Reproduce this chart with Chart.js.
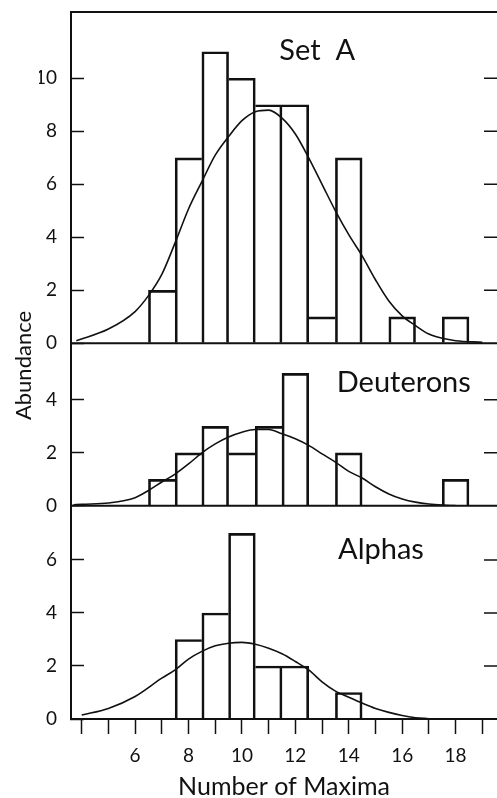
<!DOCTYPE html>
<html>
<head>
<meta charset="utf-8">
<script src="https://cdn.jsdelivr.net/npm/chart.js@4.4.1/dist/chart.umd.min.js"></script>
<style>
  html, body { margin: 0; padding: 0; background: #fff; }
  canvas { display: block; }
</style>
</head>
<body>
<canvas id="hist" width="497" height="798"></canvas>
<script>
/* --- Histogram counts --- */
const bins      = [7, 8, 9, 10, 11, 12, 13, 14, 15, 16, 17, 18];
const setA      = [2, 7, 11, 10, 9, 9, 1, 7, 0, 1, 0, 1];
const deuterons = [1, 2, 3, 2, 3, 5, 0, 2, 0, 0, 0, 1];
const alphas    = [0, 3, 4, 7, 2, 2, 0, 1, 0, 0, 0, 0];

/* --- Fitted curves, sampled by eye --- */
const fitXA = [3.8, 5, 6, 6.5, 7, 7.5, 8, 8.5, 9, 9.5, 10, 10.5, 11, 11.5, 12, 12.5, 13, 13.5, 14, 14.5, 15, 15.5, 16, 16.5, 17, 17.5, 18, 19];
const fitA  = [0.1, 0.54, 1.2, 1.8, 2.6, 3.8, 5.07, 6.1, 7.1, 7.8, 8.4, 8.74, 8.8, 8.5, 7.9, 7.0, 6.0, 5.0, 4.1, 3.3, 2.4, 1.6, 1.04, 0.67, 0.35, 0.19, 0.1, 0.04];

const fitXD = [3.7, 4, 5, 6, 6.5, 7, 7.5, 8, 8.5, 9, 9.5, 10, 10.5, 11, 11.5, 12, 12.5, 13, 13.5, 14, 14.5, 15, 15.5, 16, 16.5, 17, 17.5, 18];
const fitD  = [0.04, 0.06, 0.11, 0.31, 0.58, 0.9, 1.2, 1.58, 2.0, 2.34, 2.6, 2.78, 2.88, 2.88, 2.72, 2.53, 2.28, 1.96, 1.65, 1.3, 1.05, 0.72, 0.45, 0.26, 0.14, 0.07, 0.03, 0.01];

const fitXL = [4, 5, 6, 7, 7.5, 8, 8.5, 9, 9.5, 10, 10.5, 11, 11.5, 12, 12.5, 13, 13.5, 14, 14.5, 15, 15.5, 16, 16.5, 17];
const fitL  = [0.15, 0.4, 0.85, 1.54, 1.85, 2.26, 2.55, 2.76, 2.86, 2.89, 2.82, 2.67, 2.46, 2.17, 1.85, 1.4, 1.05, 0.82, 0.6, 0.4, 0.25, 0.13, 0.05, 0.01];

/* --- Axes --- */
const xLabels  = [6, 8, 10, 12, 14, 16, 18];
const binEdges = [4.5, 5.5, 6.5, 7.5, 8.5, 9.5, 10.5, 11.5, 12.5, 13.5, 14.5, 15.5, 16.5, 17.5, 18.5];
const ticksA = [0, 2, 4, 6, 8, 10];
const ticksD = [0, 2, 4];
const ticksL = [0, 2, 4, 6];
const panelNames = ['Set  A', 'Deuterons', 'Alphas'];

const ink = '#111';
const face = 'Lato, "Open Sans", sans-serif';
const xMin = 3.6, xMax = 19.55;
const yMax = { yA: 12.5, yD: 6.13, yL: 8.04 };
// where each panel name sits (data coords of the text's left baseline)
const nameAt = { yA: [11.4, 10.7], yD: [13.55, 4.28], yL: [13.6, 6.05] };

/* --- Helpers --- */
function histBars(counts, axis) {
  const pts = [];
  bins.forEach((b, i) => { if (counts[i] > 0) pts.push({ x: b, y: counts[i] }); });
  return {
    type: 'bar',
    data: pts,
    yAxisID: axis,
    grouped: false,
    barPercentage: 1,
    categoryPercentage: 1,
    backgroundColor: 'rgba(0,0,0,0)',
    borderColor: ink,
    // the taller neighbour draws the shared edge, so inner edges stay single
    borderWidth: ctx => {
      if (!ctx.raw) return 2;
      const i = bins.indexOf(ctx.raw.x);
      const h = counts[i], prev = counts[i - 1] || 0, next = counts[i + 1] || 0;
      return { top: 2, bottom: 0, left: prev < h ? 2 : 0, right: next <= h ? 2 : 0 };
    },
    order: 2
  };
}

function fitLine(xs, ys, axis) {
  return {
    type: 'line',
    data: xs.map((x, i) => ({ x: x, y: ys[i] })),
    yAxisID: axis,
    borderColor: ink,
    borderWidth: 1.6,
    pointRadius: 0,
    fill: false,
    cubicInterpolationMode: 'monotone',
    order: 1
  };
}

function panelAxis(id, ticks, weight) {
  return {
    type: 'linear',
    position: 'left',
    stack: 'panels',
    stackWeight: yMax[id],
    weight: weight,
    min: 0,
    max: yMax[id],
    afterBuildTicks: s => { s.ticks = ticks.map(v => ({ value: v })); },
    afterFit: s => { s.width = 32; s.paddingTop = 0; s.paddingBottom = 0; },
    grid: { drawOnChartArea: false, drawTicks: true, tickLength: -13, tickColor: ink, tickWidth: 1.5 },
    border: { display: true, color: ink, width: 2 },
    ticks: { color: ink, padding: 27, font: { family: face, size: 19 } }
  };
}

/* --- Frame, right-hand ticks and panel names --- */
const panelFrame = {
  id: 'panelFrame',
  afterDraw(chart) {
    const { ctx, chartArea: a, scales } = chart;
    ctx.save();
    ctx.strokeStyle = ink;
    ctx.lineWidth = 2;
    ctx.beginPath();
    ctx.moveTo(a.left, a.top);
    ctx.lineTo(a.right, a.top);
    ['yA', 'yD'].forEach(id => {
      const y = scales[id].getPixelForValue(0);
      ctx.moveTo(a.left, y);
      ctx.lineTo(a.right, y);
    });
    ctx.stroke();

    ctx.lineWidth = 1.5;
    ctx.beginPath();
    ['yA', 'yD', 'yL'].forEach(id => {
      scales[id].ticks.forEach(t => {
        if (t.value === 0) return;
        const y = scales[id].getPixelForValue(t.value);
        ctx.moveTo(a.right - 13, y);
        ctx.lineTo(a.right, y);
      });
    });
    ctx.stroke();

    ctx.fillStyle = ink;
    ctx.font = '29px ' + face;
    ctx.textAlign = 'left';
    ctx.textBaseline = 'alphabetic';
    ['yA', 'yD', 'yL'].forEach((id, i) => {
      const [vx, vy] = nameAt[id];
      ctx.fillText(panelNames[i], scales.x.getPixelForValue(vx), scales[id].getPixelForValue(vy));
    });
    ctx.restore();
  }
};

new Chart(document.getElementById('hist'), {
  type: 'bar',
  data: {
    datasets: [
      histBars(setA, 'yA'),
      histBars(deuterons, 'yD'),
      histBars(alphas, 'yL'),
      fitLine(fitXA, fitA, 'yA'),
      fitLine(fitXD, fitD, 'yD'),
      fitLine(fitXL, fitL, 'yL')
    ]
  },
  options: {
    responsive: false,
    animation: false,
    layout: { padding: { top: 12, right: 0, bottom: 0, left: 0 } },
    plugins: {
      legend: { display: false },
      tooltip: { enabled: false },
      title: {
        display: true,
        text: 'Abundance',
        position: 'left',
        fullSize: false,
        color: ink,
        font: { family: face, size: 22, weight: 'normal' },
        padding: { top: 11, bottom: 1.6 }
      }
    },
    scales: {
      yA: panelAxis('yA', ticksA, 3),
      yD: panelAxis('yD', ticksD, 2),
      yL: panelAxis('yL', ticksL, 1),
      xEdge: {
        type: 'linear',
        position: 'bottom',
        weight: 1,
        offset: false,
        min: xMin,
        max: xMax,
        afterBuildTicks: s => { s.ticks = binEdges.map(v => ({ value: v })); },
        afterFit: s => { s.height = 15; },
        grid: { drawOnChartArea: false, drawTicks: true, tickLength: 15, tickColor: ink, tickWidth: 1.5 },
        border: { display: true, color: ink, width: 2 },
        ticks: { display: false }
      },
      x: {
        type: 'linear',
        position: 'bottom',
        weight: 2,
        offset: false,
        min: xMin,
        max: xMax,
        afterBuildTicks: s => { s.ticks = xLabels.map(v => ({ value: v })); },
        afterFit: s => { s.height = 64; },
        grid: { display: false },
        border: { display: false },
        ticks: { color: ink, padding: 2, autoSkip: false, maxRotation: 0, font: { family: face, size: 19 } },
        title: {
          display: true,
          text: 'Number of Maxima',
          color: ink,
          font: { family: face, size: 25 },
          padding: { top: 0, bottom: -4 }
        }
      }
    }
  },
  plugins: [panelFrame]
});
</script>
</body>
</html>
